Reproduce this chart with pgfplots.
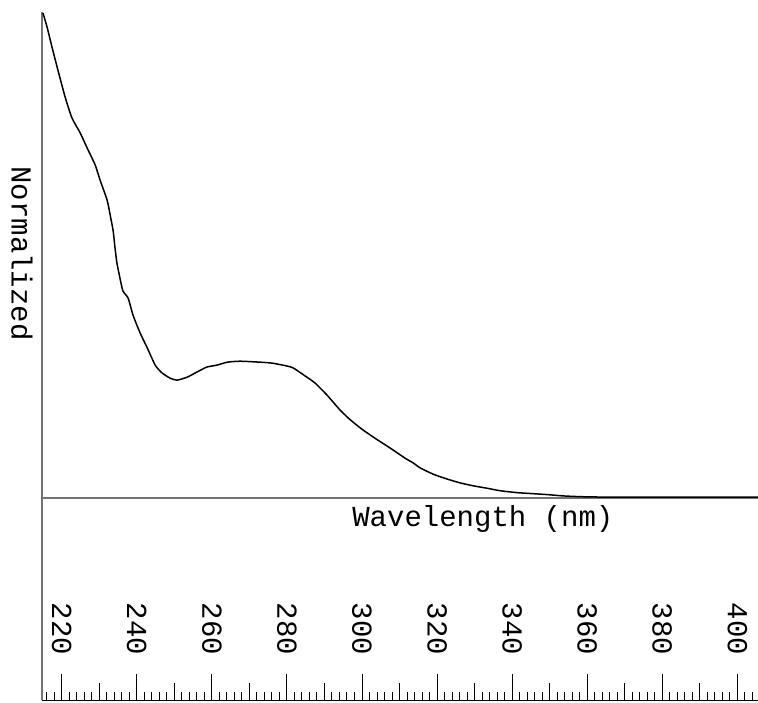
\documentclass[border=0pt]{standalone}
\usepackage{fontspec}
\setmainfont{Liberation Mono}
\usepackage{pgfplots}
\pgfplotsset{compat=1.18}

\begin{document}
\begin{tikzpicture}
\useasboundingbox (0,0) rectangle (379pt,351pt);
\begin{axis}[
    at={(21pt,1pt)}, anchor=south west,
    scale only axis,
    width=358pt, height=344pt,
    xmin=214.75, xmax=405.5,
    ymin=-0.4165, ymax=1.002,
    axis x line=bottom,
    axis y line=left,
    x axis line style={-, black, line width=0.5pt},
    y axis line style={-, black!55, line width=0.6pt},
    ytick=\empty,
    xtick={220,240,...,400},
    minor xtick={216,218,...,404},
    extra x ticks={230,250,...,390},
    extra x tick labels={},
    extra x tick style={major tick length=8.35pt},
    tick align=inside,
    major tick length=13pt,
    minor tick length=3.9pt,
    tick style={black, line width=0.5pt},
    /pgf/number format/assume math mode=true,
    /pgf/number format/1000 sep={},
    xticklabel style={font=\fontsize{14.5}{15}\selectfont, yshift=35.5pt, rotate=-90, anchor=center},
    clip=false,
]
% baseline
\addplot[black!55, line width=0.6pt] coordinates {(214.75,0) (405.5,0)};

\addplot[black, line width=0.75pt, smooth, tension=0.35] coordinates {
(215.0,1.000) (216.1,0.971) (217.4,0.930) (219.0,0.882) (220.9,0.827)
(222.7,0.784) (224.9,0.753) (227.0,0.718) (228.9,0.687) (230.2,0.656)
(232.1,0.614) (232.9,0.584) (233.7,0.551) (234.2,0.516) (234.7,0.485)
(235.5,0.454) (236.3,0.427) (237.7,0.412) (239.0,0.377) (240.9,0.340)
(242.7,0.311) (244.9,0.274) (246.7,0.258) (248.9,0.247) (250.7,0.243)
(253.4,0.249) (256.1,0.260) (258.7,0.270) (261.4,0.274) (264.1,0.280)
(267.5,0.282) (272.9,0.280) (276.1,0.278) (280.1,0.272) (281.7,0.268)
(284.4,0.254) (287.5,0.237) (290.7,0.212) (294.2,0.181) (296.9,0.161)
(300.3,0.140) (304.1,0.120) (307.5,0.103) (311.5,0.082) (313.7,0.072)
(315.5,0.062) (319.0,0.049) (322.7,0.039) (326.2,0.031) (329.7,0.025)
(333.4,0.020) (336.8,0.015) (341.4,0.011) (349.4,0.007) (354.2,0.004)
(363.5,0.002) (405.5,0.002)
};

\node[anchor=base, font=\fontsize{14.5}{15}\selectfont] at (axis cs:332.2,-0.0588) {Wavelength (nm)};
\node[rotate=-90, anchor=center, font=\fontsize{14.5}{15}\selectfont] at (axis cs:209.41,0.504) {Normalized};
\end{axis}
\end{tikzpicture}
\end{document}
